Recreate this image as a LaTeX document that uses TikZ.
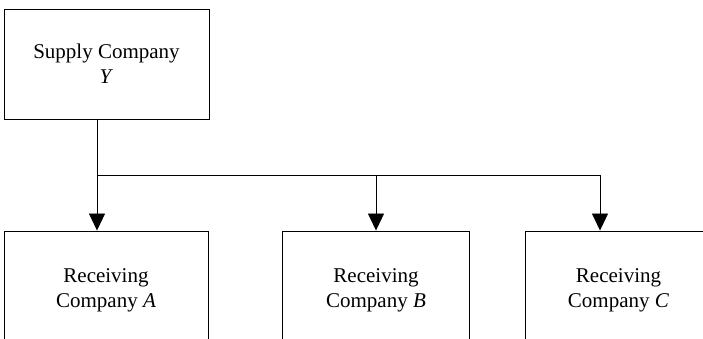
\documentclass[tikz,border=0pt]{standalone}
\usepackage{fontspec}
\setmainfont{Liberation Serif}
\usetikzlibrary{arrows.meta}
\begin{document}
\begin{tikzpicture}[x=1pt,y=1pt,
  box/.style={draw,line width=0.9pt,align=center,inner sep=0pt,
    font=\fontsize{21}{25}\selectfont},
  flow/.style={line width=0.9pt},
  arrowline/.style={flow,-{Triangle[width=16pt,length=17pt]}}]
\useasboundingbox (0,0) rectangle (703,339);
\clip (0,0) rectangle (703,339);
% supplier
\node[box,minimum width=205pt,minimum height=110pt] (Y) at (106.5,275) {Supply Company\\\textit{Y}};
% receivers (lower edges run past the page)
\node[box,minimum width=204pt,minimum height=118pt] (A) at (106,49) {Receiving\\Company \textit{A}};
\node[box,minimum width=186.5pt,minimum height=118pt] (B) at (376,49) {Receiving\\Company \textit{B}};
\node[box,minimum width=186pt,minimum height=118pt] (C) at (618.5,49) {Receiving\\Company \textit{C}};
% distribution bus
\coordinate (ja) at (97,164);
\coordinate (jb) at (B.north |- ja);
\coordinate (jc) at (600,164);
\draw[flow] (Y.south -| ja) -- (ja) -- (jc);
\draw[arrowline] (ja) -- (A.north -| ja);
\draw[arrowline] (jb) -- (B.north);
\draw[arrowline] (jc) -- (C.north -| jc);
\end{tikzpicture}
\end{document}
